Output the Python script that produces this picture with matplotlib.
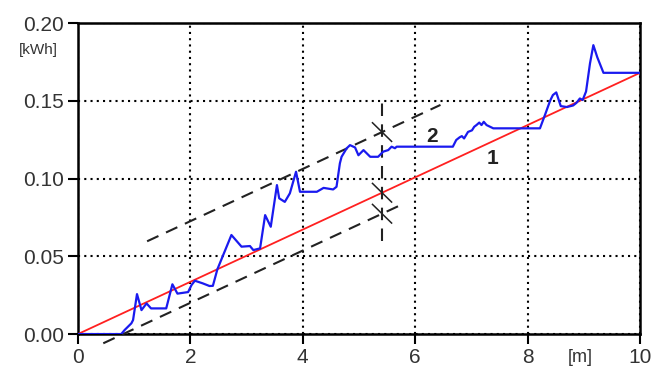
import matplotlib.pyplot as plt
import numpy as np

plt.rcParams['font.family'] = ['Liberation Sans', 'DejaVu Sans']

# measured curve (2)
dist = [0.0, 0.77, 0.83, 0.95, 0.98, 1.05, 1.13, 1.22, 1.30, 1.57, 1.68, 1.77, 1.96,
        2.02, 2.08, 2.22, 2.34, 2.40, 2.48, 2.56, 2.73, 2.91, 3.06, 3.12, 3.24, 3.33,
        3.43, 3.54, 3.58, 3.68, 3.77, 3.88, 3.95, 4.25, 4.37, 4.54, 4.60, 4.66, 4.69,
        4.78, 4.84, 4.93, 4.99, 5.08, 5.20, 5.34, 5.43, 5.52, 5.58, 5.64, 5.67, 6.67,
        6.73, 6.79, 6.83, 6.87, 6.94, 7.01, 7.05, 7.09, 7.14, 7.18, 7.22, 7.27, 7.39,
        8.22, 8.31, 8.40, 8.45, 8.51, 8.59, 8.70, 8.81, 8.87, 8.93, 8.98, 9.04, 9.11,
        9.17, 9.24, 9.35, 10.0]
energy = [0.0, 0.0, 0.0026, 0.0069, 0.009, 0.0257, 0.0154, 0.0197, 0.0165, 0.0165,
          0.032, 0.026, 0.027, 0.0315, 0.0343, 0.0326, 0.0309, 0.031, 0.0416, 0.0487,
          0.0637, 0.0562, 0.0566, 0.054, 0.0551, 0.0765, 0.069, 0.0958, 0.0873, 0.085,
          0.0905, 0.1044, 0.0915, 0.0915, 0.094, 0.093, 0.0947, 0.1098, 0.114, 0.1194,
          0.1215, 0.120, 0.115, 0.1183, 0.114, 0.114, 0.1173, 0.1183, 0.1205, 0.1195,
          0.1205, 0.1205, 0.1248, 0.1265, 0.1273, 0.1258, 0.130, 0.131, 0.1333, 0.1344,
          0.136, 0.1344, 0.1365, 0.1344, 0.1323, 0.1323, 0.141, 0.150, 0.1537, 0.1554,
          0.1466, 0.146, 0.147, 0.1487, 0.1515, 0.1505, 0.156, 0.174, 0.1858, 0.178,
          0.168, 0.168]

# linear trend (1) and band
trend_x = [0.0, 10.0]
trend_y = [0.0, 0.168]
slope = 0.0168
upper_offset = 0.039
lower_offset = -0.0135
upper_x = [1.23, 6.45]
lower_x = [0.45, 5.75]
cut_x = 5.41

fig = plt.figure(figsize=(6.52, 3.72), dpi=100)
ax = fig.add_axes([0.1196, 0.102, 0.862, 0.836])

ax.plot(trend_x, trend_y, color='#ff2020', lw=1.3, zorder=3)
ax.plot(dist, energy, color='#1a1aef', lw=1.6, zorder=4)

ux = np.array(upper_x)
lx = np.array(lower_x)
ax.plot(ux, slope * ux + upper_offset, color='#222222', lw=1.5, ls=(0, (6, 4)), zorder=3)
ax.plot(lx, slope * lx + lower_offset, color='#222222', lw=1.5, ls=(0, (6, 4)),
        zorder=3, clip_on=False)

# vertical cut with crossing marks
ax.plot([cut_x, cut_x], [0.060, 0.150], color='#222222', lw=1.5, ls=(0, (6, 4)), zorder=3)
for off in [upper_offset, 0.0, lower_offset]:
    yc = slope * cut_x + off
    ax.plot([cut_x - 0.17, cut_x + 0.17], [yc + 0.006, yc - 0.006], color='#222222',
            lw=1.1, zorder=5)

ax.text(6.30, 0.127, '2', fontsize=15, fontweight='bold', color='#222222',
        ha='center', va='center')
ax.text(7.37, 0.113, '1', fontsize=15, fontweight='bold', color='#222222',
        ha='center', va='center')

ax.set_xlim(0, 10)
ax.set_ylim(0, 0.20)
ax.set_xticks([0, 2, 4, 6, 8, 10])
ax.set_yticks([0.0, 0.05, 0.10, 0.15, 0.20])
ax.set_yticklabels(['0.00', '0.05', '0.10', '0.15', '0.20'])
ax.tick_params(axis='both', labelsize=15, labelcolor='#333333', width=1.5,
               length=7, direction='out', pad=3)
for s in ax.spines.values():
    s.set_linewidth(1.8)
ax.grid(True, color='black', ls=(0, (1, 2)), lw=1.5)
ax.set_axisbelow(True)

fig.text(38 / 652, 1 - 50 / 372, '[kWh]', fontsize=11, color='#333333',
         ha='center', va='center')
fig.text(580 / 652, 1 - 357 / 372, '[m]', fontsize=13, color='#333333',
         ha='center', va='center')

fig.savefig('out.png', dpi=100)
